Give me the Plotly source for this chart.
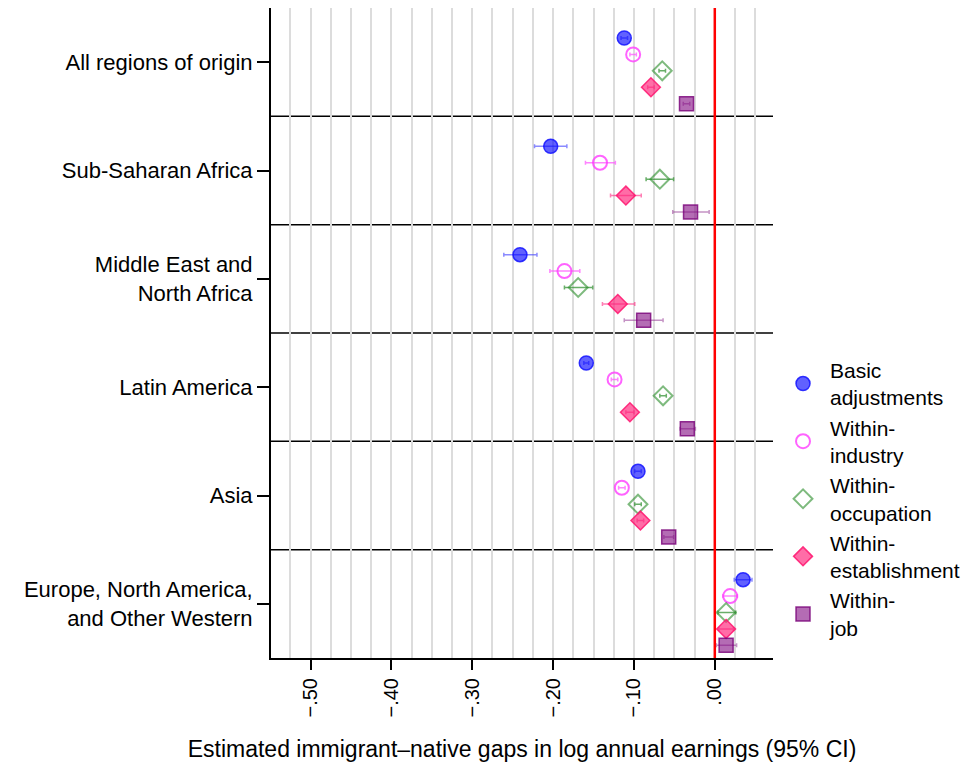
import plotly.graph_objects as go

regions = ["All regions of origin", "Sub-Saharan Africa", "Middle East and<br>North Africa",
           "Latin America", "Asia", "Europe, North America,<br>and Other Western"]
models = ["Basic<br>adjustments", "Within-<br>industry", "Within-<br>occupation",
          "Within-<br>establishment", "Within-<br>job"]

# point estimates per model (one value per region, in region order)
basic = [-0.112, -0.203, -0.241, -0.159, -0.095, 0.035]
industry = [-0.101, -0.142, -0.186, -0.124, -0.115, 0.019]
occupation = [-0.065, -0.068, -0.169, -0.064, -0.095, 0.014]
establishment = [-0.079, -0.110, -0.120, -0.105, -0.092, 0.014]
job = [-0.035, -0.030, -0.088, -0.034, -0.057, 0.014]

# 95% CI lower / upper bounds
basic_lo = [-0.116, -0.223, -0.261, -0.162, -0.099, 0.024]
basic_hi = [-0.108, -0.183, -0.220, -0.156, -0.091, 0.046]
industry_lo = [-0.105, -0.160, -0.204, -0.128, -0.119, 0.010]
industry_hi = [-0.097, -0.123, -0.167, -0.120, -0.111, 0.028]
occupation_lo = [-0.069, -0.085, -0.186, -0.068, -0.099, 0.004]
occupation_hi = [-0.061, -0.051, -0.151, -0.060, -0.091, 0.026]
establishment_lo = [-0.083, -0.129, -0.139, -0.110, -0.096, 0.005]
establishment_hi = [-0.075, -0.091, -0.099, -0.100, -0.088, 0.023]
job_lo = [-0.039, -0.052, -0.112, -0.043, -0.063, 0.002]
job_hi = [-0.031, -0.007, -0.064, -0.024, -0.051, 0.027]

x_tickvals = [-0.5, -0.4, -0.3, -0.2, -0.1, 0.0]
x_ticktext = ["\u2212.50", "\u2212.40", "\u2212.30", "\u2212.20", "\u2212.10", ".00"]

series = [
    (basic, basic_lo, basic_hi),
    (industry, industry_lo, industry_hi),
    (occupation, occupation_lo, occupation_hi),
    (establishment, establishment_lo, establishment_hi),
    (job, job_lo, job_hi),
]
styles = [
    dict(symbol="circle", size=14, color="rgba(0,0,255,0.62)", line=dict(color="rgba(20,20,255,0.85)", width=1.5)),
    dict(symbol="circle-open", size=14, color="rgba(255,60,255,0.8)", line=dict(color="rgba(255,60,255,0.8)", width=2)),
    dict(symbol="diamond-open", size=14.5, color="rgba(40,140,40,0.6)", line=dict(color="rgba(40,140,40,0.6)", width=2)),
    dict(symbol="diamond", size=14.5, color="rgba(255,30,120,0.65)", line=dict(color="rgba(255,20,110,0.85)", width=1.5)),
    dict(symbol="square", size=14, color="rgba(130,10,130,0.6)", line=dict(color="rgba(120,0,120,0.8)", width=1.5)),
]
err_colors = ["rgba(60,60,255,0.6)", "rgba(255,80,255,0.7)", "rgba(40,140,40,0.7)",
              "rgba(255,40,130,0.6)", "rgba(140,40,140,0.5)"]

FONT = "Liberation Sans, Arial, sans-serif"
fig = go.Figure()
for k, ((vals, lo, hi), st, ec, name) in enumerate(zip(series, styles, err_colors, models)):
    ys = [i + 0.277 + 0.1515 * k for i in range(len(regions))]
    fig.add_trace(go.Scatter(
        x=vals, y=ys, mode="markers", name=name,
        marker=st,
        error_x=dict(type="data", symmetric=False,
                     array=[h - v for v, h in zip(vals, hi)],
                     arrayminus=[v - l for v, l in zip(vals, lo)],
                     color=ec, thickness=1.5, width=2),
    ))

shapes = [dict(type="line", xref="x", yref="paper", x0=0, x1=0, y0=0, y1=1,
               line=dict(color="red", width=2.5), layer="above")]
for i in range(1, len(regions)):
    shapes.append(dict(type="line", xref="paper", yref="y", x0=0, x1=1, y0=i, y1=i,
                       line=dict(color="black", width=1.5), layer="between"))

fig.update_layout(
    width=966, height=760,
    margin=dict(l=263, r=201, t=0, b=110, autoexpand=False),
    paper_bgcolor="white", plot_bgcolor="white",
    font=dict(family=FONT, size=22, color="black"),
    shapes=shapes,
    showlegend=True,
    legend=dict(x=1.006, y=0.245, xanchor="left", yanchor="middle", itemwidth=44,
                font=dict(size=21), tracegroupgap=10, bgcolor="rgba(0,0,0,0)"),
    xaxis=dict(range=[-0.549, 0.072], tickmode="array", tickvals=x_tickvals, ticktext=x_ticktext,
               tickangle=-90, ticks="outside", ticklen=10, tickwidth=2, tickcolor="black",
               showline=True, linecolor="black", linewidth=2, zeroline=False,
               showgrid=True, gridcolor="#dcdcdc", gridwidth=1.5,
               minor=dict(tick0=0, dtick=0.025, showgrid=True, gridcolor="#dcdcdc", gridwidth=1.5),
               title=dict(text="Estimated immigrant\u2013native gaps in log annual earnings (95% CI)",
                          standoff=24, font=dict(size=23)),
               tickfont=dict(size=20)),
    yaxis=dict(range=[len(regions), 0], tickmode="array",
               tickvals=[i + 0.5 for i in range(len(regions))], ticktext=regions,
               ticks="outside", ticklen=12, tickwidth=2, tickcolor="black",
               showline=True, linecolor="black", linewidth=2, zeroline=False, showgrid=False,
               tickfont=dict(size=22)),
)

fig.write_html("out.html")
